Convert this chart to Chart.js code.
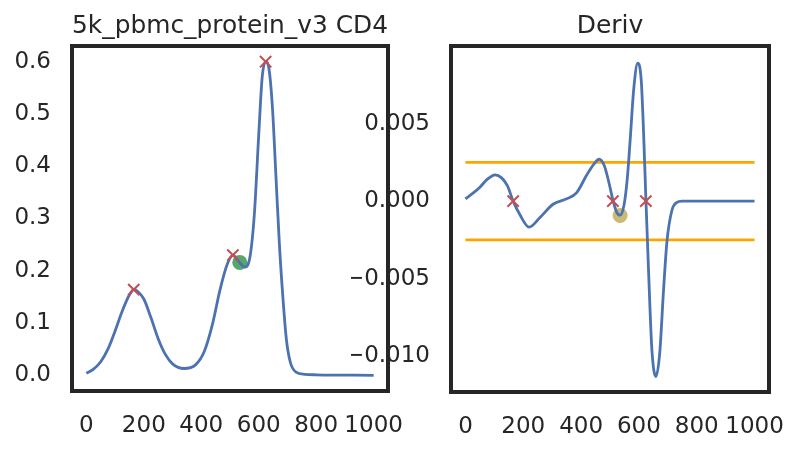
<!DOCTYPE html>
<html><head><meta charset="utf-8">
<script src="https://cdn.jsdelivr.net/npm/chart.js@4"></script>
<style>
html,body{margin:0;padding:0;background:#fff;}
#wrap{position:relative;width:798px;height:450px;overflow:hidden;}
canvas{position:absolute;left:0;top:0;}
</style></head><body>
<div id="wrap">
<canvas id="right" width="798" height="450"></canvas>
<canvas id="left" width="798" height="450"></canvas>
</div>
<script>
// ---- data ----
const densityX = [0, 25, 50, 75, 100, 125, 150, 165, 180, 200, 225, 250, 275, 300, 340, 380, 410, 440, 465, 490, 510, 530, 552, 570, 585, 600, 612, 624, 636, 648, 660, 672, 684, 696, 710, 730, 760, 800, 1000];
const densityY = [0.004, 0.012, 0.026, 0.05, 0.085, 0.123, 0.154, 0.164, 0.160, 0.146, 0.11, 0.07, 0.04, 0.022, 0.013, 0.02, 0.045, 0.10, 0.163, 0.212, 0.230, 0.218, 0.207, 0.228, 0.31, 0.46, 0.57, 0.600, 0.585, 0.51, 0.38, 0.25, 0.15, 0.07, 0.025, 0.006, 0.002, 0.001, 0.000];
const derivX = [0, 25, 50, 75, 103, 125, 145, 165, 188, 220, 257, 303, 350, 384, 420, 445, 462, 480, 495, 511, 523, 535, 549, 560, 570, 582, 596, 608, 616, 624, 633, 645, 659, 672, 685, 697, 714, 730, 750, 1000];
const derivY = [0.00015, 0.0005, 0.0009, 0.0014, 0.0017, 0.0015, 0.0010, 0.0000, -0.00086, -0.00167, -0.00107, -0.0002, 0.00015, 0.00053, 0.0017, 0.0024, 0.0027, 0.0023, 0.0013, 0.0000, -0.0007, -0.0009, -0.0002, 0.0015, 0.0040, 0.0072, 0.0089, 0.0078, 0.0045, 0.0002, -0.0043, -0.0096, -0.0113, -0.0098, -0.0058, -0.0026, -0.0006, -0.0001, 0.0, 0.0];
const peakX = [165, 510, 624];
const peakDensity = [0.164, 0.230, 0.600];
const peakDeriv = [0, 0, 0];
const pointX = [534];
const pointDensity = [0.216];
const derivPointX = [535];
const derivPointY = [-0.00092];
const thresholds = [0.0025, -0.0025];
const thresholdSpan = [0, 1000];
const xTicks = [0, 200, 400, 600, 800, 1000];
const leftYTicks = [0, 0.1, 0.2, 0.3, 0.4, 0.5, 0.6];
const rightYTicks = [-0.010, -0.005, 0, 0.005];
const titles = ['5k_pbmc_protein_v3 CD4', 'Deriv'];

// ---- helpers ----
const zip = (xs, ys) => xs.map((x, i) => ({x: x, y: ys[i]}));
const INK = '#262626';
const FONT = 'DejaVu Sans';

const framePlugin = {
  id: 'frame',
  afterDraw(chart) {
    const {ctx, chartArea: a} = chart;
    ctx.save();
    ctx.strokeStyle = INK;
    ctx.lineWidth = 4;
    ctx.strokeRect(a.left, a.top, a.right - a.left, a.bottom - a.top);
    ctx.restore();
  }
};

function lineDs(data, color, order) {
  return {type: 'line', data, borderColor: color, borderWidth: 2.8, pointRadius: 0,
          cubicInterpolationMode: 'monotone', fill: false, order};
}
function crossDs(data, order) {
  return {type: 'scatter', data, pointStyle: 'crossRot', pointRadius: 8, borderColor: '#c44e52',
          borderWidth: 2, backgroundColor: '#c44e52', order};
}
function dotDs(data, color, order) {
  return {type: 'scatter', data, pointStyle: 'circle', pointRadius: 7.5, borderWidth: 0,
          backgroundColor: color, order};
}

function makeChart(id, opt) {
  return new Chart(document.getElementById(id), {
    type: 'scatter',
    data: {datasets: opt.datasets},
    options: {
      responsive: false, animation: false, events: [],
      layout: {padding: {left: opt.padLeft, right: opt.padRight, top: 0, bottom: 0}},
      plugins: {
        legend: {display: false}, tooltip: {enabled: false},
        title: {display: true, text: opt.title, fullSize: false, color: INK,
                font: {family: FONT, size: 25, weight: 'normal', lineHeight: 1.2},
                padding: {top: 11, bottom: 5}}
      },
      scales: {
        x: {type: 'linear', min: -50, max: 1050,
            grid: {display: false, drawTicks: false}, border: {display: false},
            afterBuildTicks: s => { s.ticks = xTicks.map(v => ({value: v})); },
            afterFit: s => { s.height = opt.xHeight; s.paddingLeft = 0; s.paddingRight = 0; },
            ticks: {color: INK, padding: 21, maxRotation: 0, autoSkip: false,
                    font: {family: FONT, size: 23}, callback: v => String(v)}},
        y: {type: 'linear', min: opt.yMin, max: opt.yMax,
            grid: {display: false, drawTicks: false}, border: {display: false},
            afterBuildTicks: s => { s.ticks = opt.yTicks.map(v => ({value: v})); },
            afterFit: s => { s.width = opt.yWidth; s.paddingTop = 0; s.paddingBottom = 0; },
            ticks: {color: INK, padding: 21, autoSkip: false,
                    font: {family: FONT, size: 23}, callback: opt.fmt}}
      }
    },
    plugins: [framePlugin]
  });
}

makeChart('right', {
  padLeft: 351, padRight: 29, yWidth: 100, xHeight: 58, title: titles[1],
  yMin: -0.0123, yMax: 0.0100, yTicks: rightYTicks,
  fmt: v => (v < 0 ? '\u2212' + Math.abs(v).toFixed(3) : v.toFixed(3)),
  datasets: [
    crossDs(zip(peakX, peakDeriv), 0),
    lineDs(zip(derivX, derivY), '#4c72b0', 1),
    dotDs(zip(derivPointX, derivPointY), '#ccb974', 2),
    lineDs(zip(thresholdSpan, [thresholds[0], thresholds[0]]), '#ffa500', 3),
    lineDs(zip(thresholdSpan, [thresholds[1], thresholds[1]]), '#ffa500', 3)
  ]
});

makeChart('left', {
  padLeft: 0, padRight: 410, yWidth: 72, xHeight: 59, title: titles[0],
  yMin: -0.03, yMax: 0.63, yTicks: leftYTicks,
  fmt: v => v.toFixed(1),
  datasets: [
    crossDs(zip(peakX, peakDensity), 0),
    lineDs(zip(densityX, densityY), '#4c72b0', 1),
    dotDs(zip(pointX, pointDensity), '#55a868', 2)
  ]
});
</script>
</body></html>
